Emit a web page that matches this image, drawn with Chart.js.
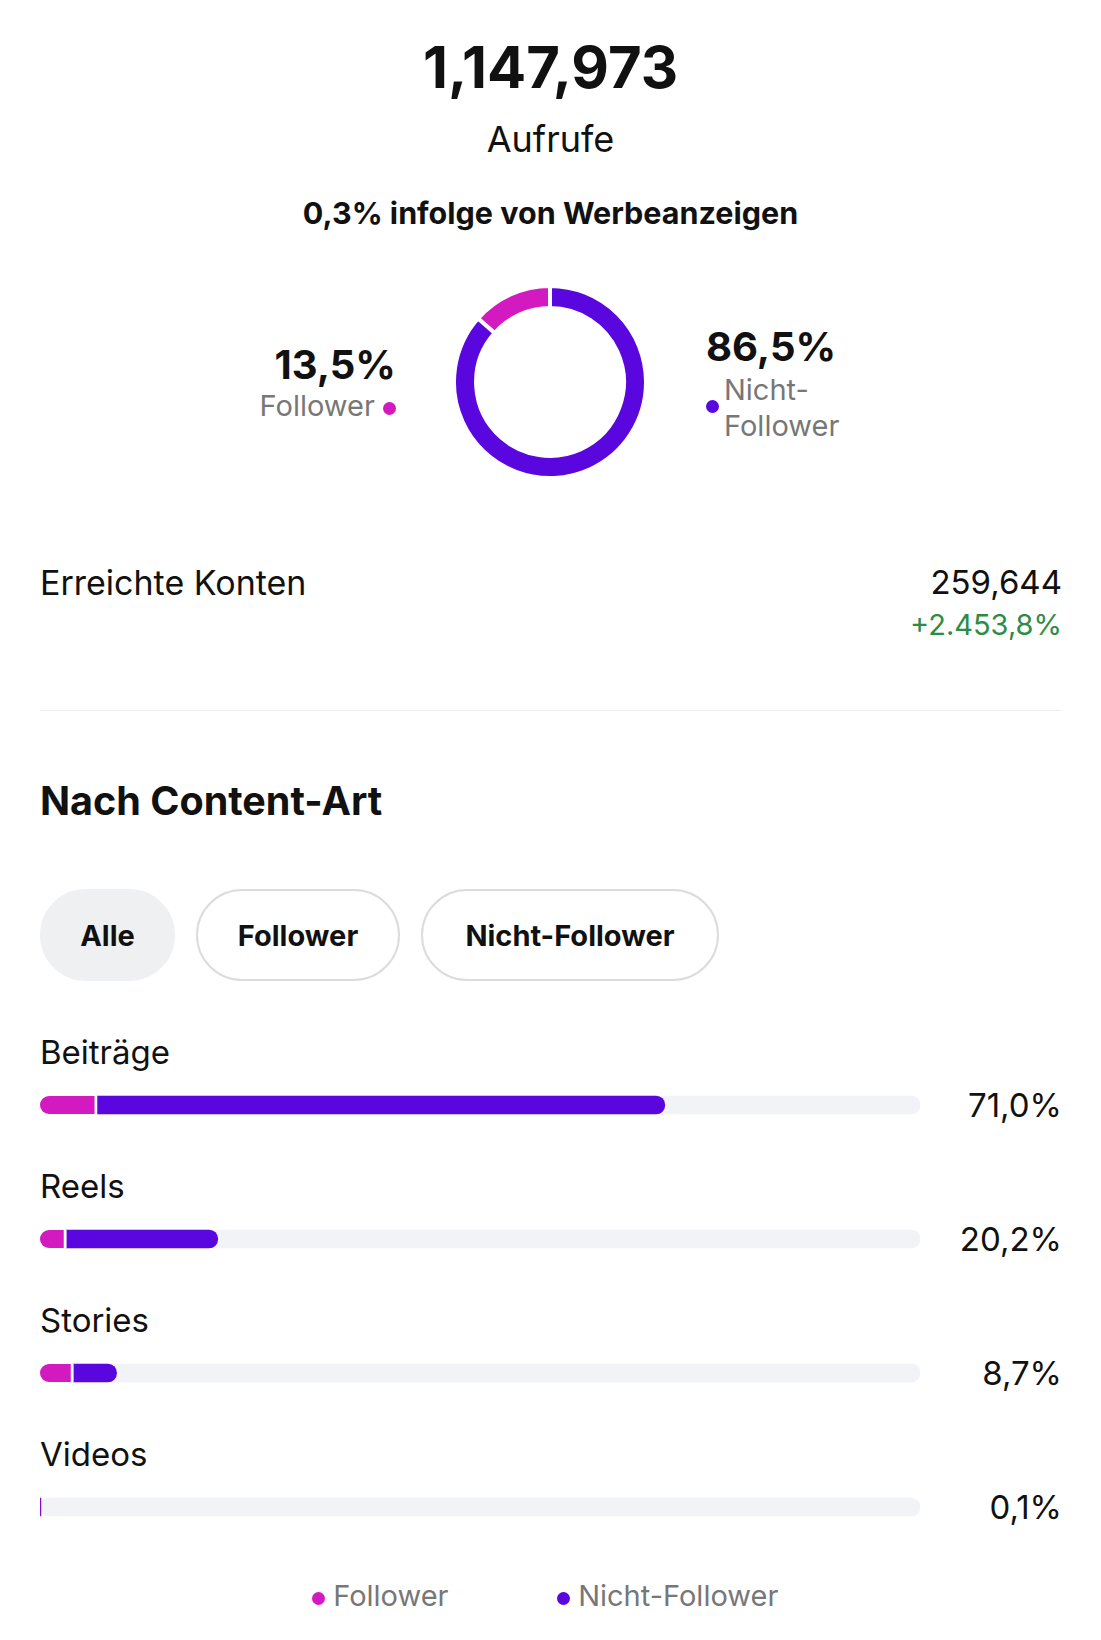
<!DOCTYPE html>
<html><head><meta charset="utf-8">
<script src="https://cdn.jsdelivr.net/npm/chart.js@4"></script>
<style>
body{margin:0;width:1101px;height:1640px;background:#fff;font-family:Inter,"Noto Sans",sans-serif;color:#111;position:relative;overflow:hidden}
.a{position:absolute;white-space:nowrap}
.pill{position:absolute;top:889px;height:92px;border-radius:46px;box-sizing:border-box;border:2px solid #dcdcdc;display:flex;align-items:center;justify-content:center;font-weight:700;font-size:29px}
.dot{display:inline-block;width:13px;height:13px;border-radius:50%;vertical-align:middle}
</style></head><body>
<script>
const categories=["Beiträge","Reels","Stories","Videos"];
const totals=["71,0%","20,2%","8,7%","0,1%"];
const followerVals=[6.5,3.0,3.8,0];
const nonFollowerVals=[64.5,17.2,4.9,0.1];
const donutLabels=["Follower","Nicht-Follower"];
const donutVals=[13.5,86.5];
</script>
<div class="a" style="left:0;width:1101px;text-align:center;top:32px;font-size:58px;font-weight:700">1,147,973</div>
<div class="a" style="left:0;width:1101px;text-align:center;top:117px;font-size:36px">Aufrufe</div>
<div class="a" style="left:0;width:1101px;text-align:center;top:194px;font-size:30.5px;font-weight:700">0,3% infolge von Werbeanzeigen</div>
<div class="a" style="right:705px;top:340px;font-size:40px;font-weight:700">13,5%</div>
<div class="a" style="right:705px;top:388px;font-size:29px;color:#777">Follower <span class="dot" style="background:#d21ac0"></span></div>
<div class="a" style="left:706px;top:322px;font-size:40px;font-weight:700">86,5%</div>
<div class="a" style="left:706px;top:372px;font-size:29px;color:#777;line-height:36px;white-space:normal;width:160px"><span class="dot" style="background:#5a06de;position:absolute;left:0;top:28px"></span><div style="margin-left:18px">Nicht-<br>Follower</div></div>
<div style="position:absolute;left:452px;top:284px;width:196px;height:196px"><canvas id="d"></canvas></div>
<div class="a" style="left:40px;top:562px;font-size:34px">Erreichte Konten</div>
<div class="a" style="right:39px;top:562px;font-size:33px">259,644</div>
<div class="a" style="right:39px;top:607px;font-size:29px;color:#2e8b45">+2.453,8%</div>
<div style="position:absolute;left:40px;width:1022px;top:710px;height:1px;background:#eee"></div>
<div class="a" style="left:40px;top:777px;font-size:39.5px;font-weight:700">Nach Content-Art</div>
<div class="pill" style="left:40px;width:135px;background:#eff0f2;border-color:#eff0f2">Alle</div>
<div class="pill" style="left:196px;width:204px">Follower</div>
<div class="pill" style="left:421px;width:298px">Nicht-Follower</div>
<div id="labels"></div>
<div style="position:absolute;left:40px;top:1038px;width:880px;height:536px"><canvas id="b"></canvas></div>
<div class="a" style="left:312px;top:1578px;font-size:29px;color:#777"><span class="dot" style="background:#d21ac0"></span> Follower</div>
<div class="a" style="left:557px;top:1578px;font-size:29px;color:#777"><span class="dot" style="background:#5a06de"></span> Nicht-Follower</div>
<script>
const L=document.getElementById('labels');
categories.forEach((c,i)=>{
  const y=1105+i*134;
  L.insertAdjacentHTML('beforeend',`<div class="a" style="left:40px;top:${y-73}px;font-size:33px">${c}</div><div class="a" style="right:39px;top:${y-20}px;font-size:33px">${totals[i]}</div>`);
});
new Chart(document.getElementById('d'),{type:'doughnut',data:{labels:donutLabels,datasets:[{data:donutVals,backgroundColor:['#d21ac0','#5a06de'],borderColor:'#fff',borderWidth:4}]},
options:{responsive:true,maintainAspectRatio:false,animation:false,rotation:-48.6,cutout:'77%',plugins:{legend:{display:false},tooltip:{enabled:false}}}});
new Chart(document.getElementById('b'),{type:'bar',data:{labels:categories,datasets:[
 {data:followerVals,backgroundColor:'#d21ac0',stack:'a',order:1,borderRadius:{topLeft:9,bottomLeft:9},borderSkipped:false,borderColor:'#fff',borderWidth:{right:3}},
 {data:nonFollowerVals,backgroundColor:'#5a06de',stack:'a',order:1,borderRadius:{topRight:9,bottomRight:9},borderSkipped:false},
 {data:categories.map(()=>100),backgroundColor:'#f2f3f6',stack:'b',order:2,borderRadius:9,borderSkipped:false}
]},options:{indexAxis:'y',responsive:true,maintainAspectRatio:false,animation:false,
 datasets:{bar:{grouped:false,barThickness:18}},layout:{padding:0},
 scales:{x:{stacked:true,min:0,max:100,display:false},y:{stacked:true,display:false}},
 plugins:{legend:{display:false},tooltip:{enabled:false}}}});
</script>
</body></html>
